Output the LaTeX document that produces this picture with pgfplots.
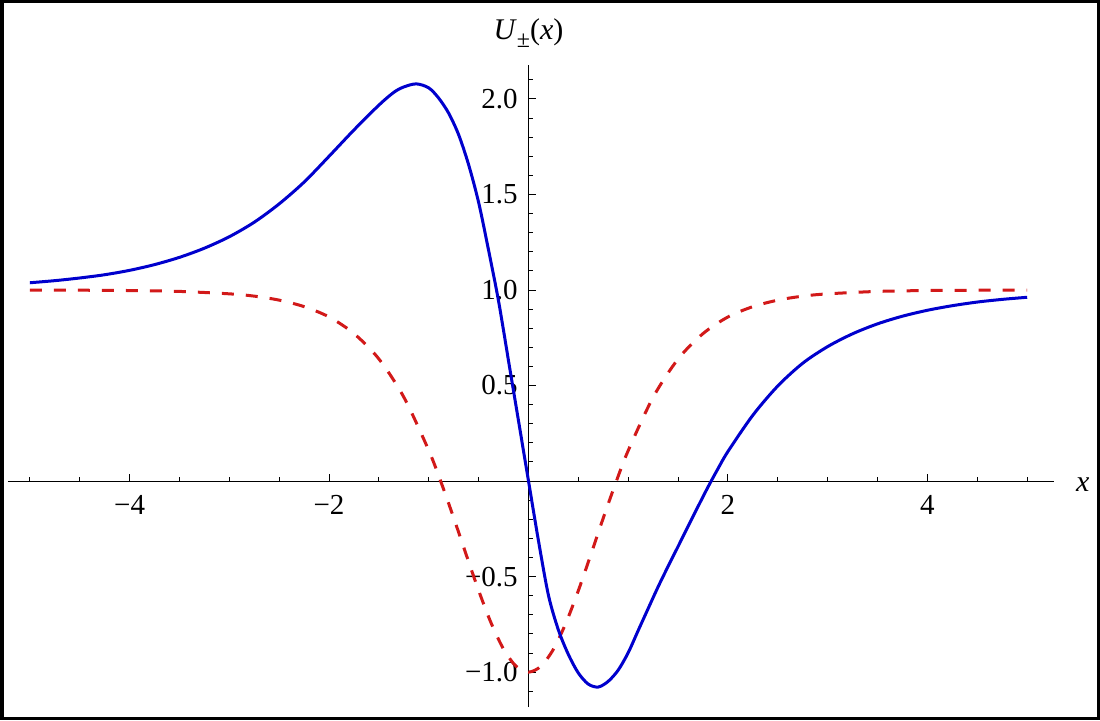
\documentclass[border=0pt]{standalone}
\usepackage{fontspec}
\setmainfont{Liberation Serif}
\usepackage{pgfplots}
\pgfplotsset{compat=1.18}

\definecolor{ublue}{RGB}{0,0,205}
\definecolor{ured}{RGB}{210,25,25}

\begin{document}
\begin{tikzpicture}
\begin{axis}[
  scale only axis,
  width=523pt, height=321pt,
  xmin=-5.22, xmax=5.27,
  ymin=-1.183, ymax=2.178,
  axis lines=middle,
  axis line style={-, line width=0.5pt},
  tick align=inside,
  major tick length=3.5pt,
  minor tick length=2pt,
  tick style={black, line width=0.5pt},
  xtick={-4,-2,2,4},
  xticklabels={−4,−2,2,4},
  minor xtick={-5,-4.5,...,5},
  ytick={-1,-0.5,0.5,1,1.5,2},
  yticklabels={−1.0,−0.5,0.5,1.0,1.5,2.0},
  minor ytick={-1.1,-1.0,...,2.15},
  ticklabel style={font=\fontsize{14.5}{16}\selectfont},
  xticklabel style={yshift=-3.8pt},
  yticklabel style={xshift=-1.9pt},
  xlabel={\textit{x}},
  ylabel={\textit{U}\raisebox{-0.28em}{\fontsize{12}{13}\selectfont ±}(\textit{x})},
  every axis x label/.style={at={(axis description cs:1.0274,0.347)}, anchor=center, font=\fontsize{15}{17}\selectfont},
  every axis y label/.style={at={(axis description cs:0.4976,1.050)}, anchor=center, font=\fontsize{15}{17}\selectfont},
  clip=false,
]
% red dashed: U_-(x)
\addplot[ured, line width=1.5pt, dash pattern=on 6pt off 6pt, smooth] coordinates {
  (-5,0.9996) (-4.5,0.9990) (-4,0.9973) (-3.5,0.9927) (-3,0.980) (-2.75,0.968)
  (-2.5,0.947) (-2.25,0.913) (-2,0.859) (-1.75,0.772) (-1.5,0.639) (-1.25,0.439)
  (-1,0.160) (-0.875,-0.009) (-0.75,-0.193) (-0.625,-0.385) (-0.5,-0.573)
  (-0.375,-0.743) (-0.25,-0.880) (-0.125,-0.969) (0,-1)
  (0.125,-0.969) (0.25,-0.880) (0.375,-0.743) (0.5,-0.573) (0.625,-0.385)
  (0.75,-0.193) (0.875,-0.009) (1,0.160) (1.25,0.439) (1.5,0.639) (1.75,0.772)
  (2,0.859) (2.25,0.913) (2.5,0.947) (2.75,0.968) (3,0.980) (3.5,0.9927)
  (4,0.9973) (4.5,0.9990) (5,0.9996)
};
% blue solid: U_+(x)
\addplot[ublue, line width=1.5pt, smooth] coordinates {
  (-5.0,1.038) (-4.75,1.049) (-4.5,1.063) (-4.25,1.080) (-4.0,1.103)
  (-3.75,1.133) (-3.5,1.171) (-3.25,1.219) (-3.0,1.279) (-2.75,1.355)
  (-2.5,1.451) (-2.25,1.565) (-2.0,1.700) (-1.75,1.838) (-1.5,1.968)
  (-1.35,2.035) (-1.25,2.063) (-1.125,2.079) (-1.0,2.058) (-0.9,2.004)
  (-0.8,1.925) (-0.7,1.812) (-0.6,1.655) (-0.5,1.458) (-0.4,1.207)
  (-0.3,0.941) (-0.2,0.628) (-0.1,0.314) (0,0)
  (0.1,-0.313) (0.2,-0.598) (0.3,-0.780) (0.4,-0.908) (0.5,-1.005)
  (0.6,-1.063) (0.7,-1.078) (0.8,-1.048) (0.9,-0.989) (1.0,-0.898)
  (1.1,-0.782) (1.2,-0.667) (1.3,-0.553) (1.4,-0.446) (1.5,-0.342)
  (1.6,-0.237) (1.7,-0.133) (1.8,-0.031) (1.9,0.065) (2.0,0.155)
  (2.25,0.345) (2.5,0.498) (2.75,0.617) (3.0,0.704) (3.25,0.771)
  (3.5,0.823) (3.75,0.863) (4.0,0.894) (4.25,0.918) (4.5,0.937)
  (4.75,0.951) (5.0,0.962)
};
% outer frame
\draw[line width=1.75pt] (axis cs:-5.282,-1.242) rectangle (axis cs:5.713,2.509);
\end{axis}
\end{tikzpicture}
\end{document}
